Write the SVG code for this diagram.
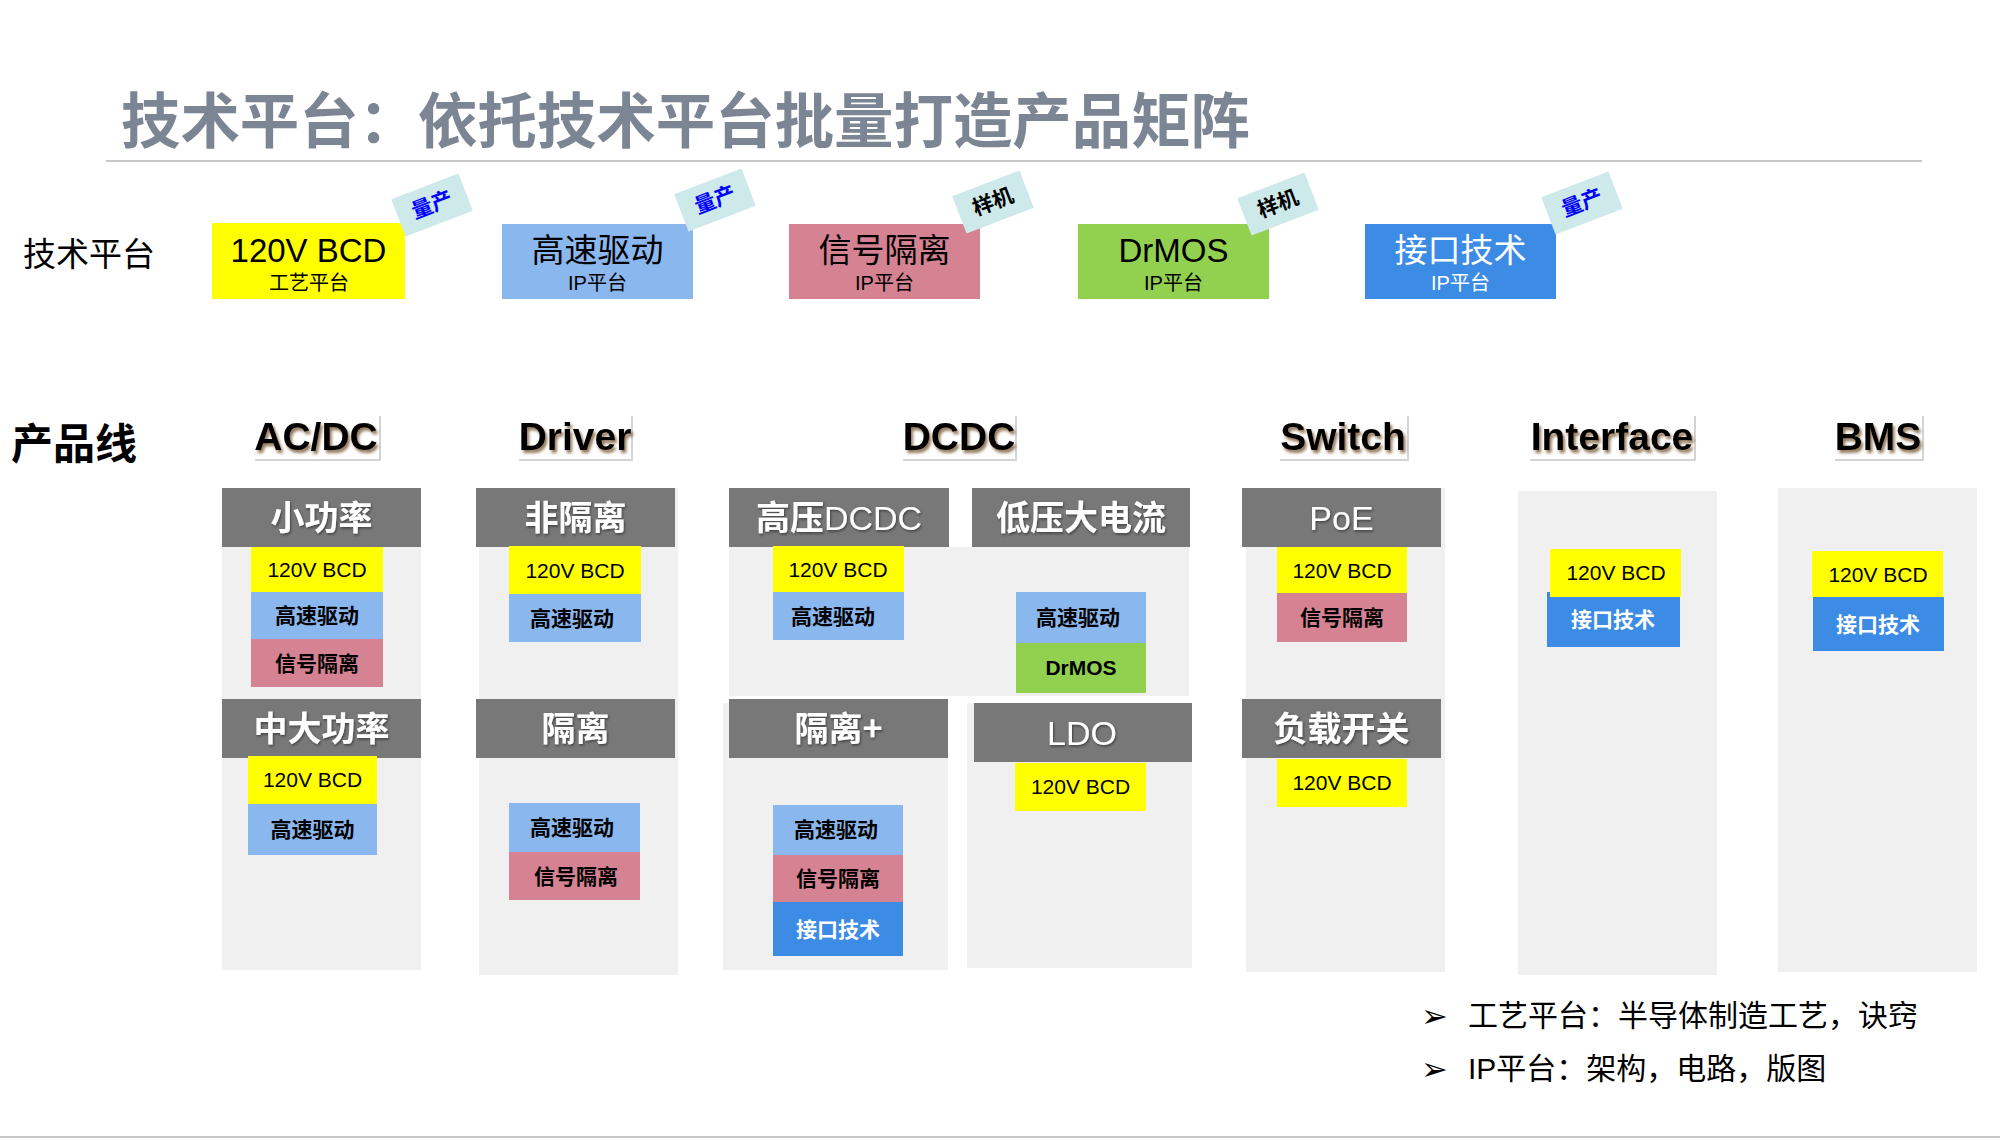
<svg xmlns="http://www.w3.org/2000/svg" width="2000" height="1140" viewBox="0 0 2000 1140">
<defs>
<filter id="hshadow" x="-10%" y="-20%" width="130%" height="150%">
<feDropShadow dx="2" dy="3" stdDeviation="1.6" flood-color="#6a4a20" flood-opacity="0.75"/>
</filter>
<filter id="wshadow" x="-10%" y="-20%" width="130%" height="150%">
<feDropShadow dx="1" dy="1.5" stdDeviation="1" flood-color="#222" flood-opacity="0.6"/>
</filter>
</defs>
<style>
.cjk{font-family:'Noto Sans CJK SC',sans-serif}
.lat{font-family:'Liberation Sans','Noto Sans CJK SC',sans-serif}
.title{font-family:'Noto Sans CJK SC',sans-serif;font-weight:bold;font-size:60px;fill:#7b8593}
.lbl{font-family:'Noto Sans CJK SC',sans-serif;font-size:33px;fill:#000}
.pmain{font-size:33px;text-anchor:middle}
.psub{font-size:20px;text-anchor:middle;font-family:'Liberation Sans','Noto Sans CJK SC',sans-serif}
.tag{fill:#cde9ea}
.tagt{font-family:'Noto Sans CJK SC',sans-serif;font-weight:bold;font-size:21px;text-anchor:middle}
.head{font-family:'Liberation Sans',sans-serif;font-weight:bold;font-size:39px;text-anchor:middle;fill:#000;filter:url(#hshadow)}
.frame{fill:none;stroke:#d4d4d4;stroke-width:2}
.bg{fill:#f0f0f0}
.hd{fill:#787878}
.hdt{font-family:'Noto Sans CJK SC',sans-serif;font-weight:bold;font-size:34px;text-anchor:middle;fill:#fff;filter:url(#wshadow)}
.hdl{font-family:'Liberation Sans',sans-serif;font-weight:normal;font-size:34px}
.Y{fill:#ffff00}.B{fill:#8ab7ee}.P{fill:#d58292}.G{fill:#92d050}.B2{fill:#3c8be5}
.ct{font-size:21px;text-anchor:middle;fill:#000}
.ctl{font-family:'Liberation Sans',sans-serif}
.ctc{font-family:'Noto Sans CJK SC',sans-serif;font-weight:bold}
.w{fill:#fff}
.note{font-family:'Liberation Sans','Noto Sans CJK SC',sans-serif;font-size:30px;fill:#000}
.arrow{font-family:'DejaVu Sans',sans-serif;font-size:32px;fill:#000}
</style>
<rect width="2000" height="1140" fill="#fff"/>

<g id="title">
<text class="title" x="121" y="143" textLength="1129" lengthAdjust="spacingAndGlyphs">技术平台：依托技术平台批量打造产品矩阵</text>
<line x1="106" y1="161" x2="1922" y2="161" stroke="#c8c8c8" stroke-width="2"/>
</g>

<g id="label-platform"><text class="lbl" x="23" y="266">技术平台</text></g>
<g id="label-product"><text class="cjk" x="11" y="459" font-size="42" font-weight="bold" fill="#000">产品线</text></g>

<g id="platform-bcd">
<rect x="212" y="223" width="193" height="76" class="Y"/>
<text class="lat pmain" x="308.5" y="262" font-size="32">120V BCD</text>
<text class="psub" x="309" y="290">工艺平台</text>
</g>
<g id="platform-drive">
<rect x="502" y="224" width="191" height="75" class="B"/>
<text class="cjk pmain" x="597.5" y="262">高速驱动</text>
<text class="psub" x="597.5" y="290">IP平台</text>
</g>
<g id="platform-iso">
<rect x="789" y="224" width="191" height="75" class="P"/>
<text class="cjk pmain" x="884.5" y="262">信号隔离</text>
<text class="psub" x="884.5" y="290">IP平台</text>
</g>
<g id="platform-drmos">
<rect x="1078" y="224" width="191" height="75" class="G"/>
<text class="lat pmain" x="1173.5" y="262">DrMOS</text>
<text class="psub" x="1173.5" y="290">IP平台</text>
</g>
<g id="platform-if">
<rect x="1365" y="224" width="191" height="75" class="B2"/>
<text class="cjk pmain" x="1460.5" y="262" fill="#fff">接口技术</text>
<text class="psub" x="1460.5" y="290" fill="#fff">IP平台</text>
</g>

<g id="tag1" transform="translate(432,205) rotate(-21)"><rect class="tag" x="-36" y="-20" width="72" height="40"/><text class="tagt" x="0" y="7" fill="#0000ff">量产</text></g>
<g id="tag2" transform="translate(715,200) rotate(-21)"><rect class="tag" x="-36" y="-20" width="72" height="40"/><text class="tagt" x="0" y="7" fill="#0000ff">量产</text></g>
<g id="tag3" transform="translate(993,202) rotate(-21)"><rect class="tag" x="-36" y="-20" width="72" height="40"/><text class="tagt" x="0" y="7" fill="#000">样机</text></g>
<g id="tag4" transform="translate(1278,204) rotate(-21)"><rect class="tag" x="-36" y="-20" width="72" height="40"/><text class="tagt" x="0" y="7" fill="#000">样机</text></g>
<g id="tag5" transform="translate(1582,203) rotate(-21)"><rect class="tag" x="-36" y="-20" width="72" height="40"/><text class="tagt" x="0" y="7" fill="#0000ff">量产</text></g>

<g id="heading-acdc"><polyline class="frame" points="255,460 380,460 380,416"/><text class="head" x="316" y="450">AC/DC</text></g>
<g id="heading-driver"><polyline class="frame" points="519,460 632,460 632,416"/><text class="head" x="575" y="450">Driver</text></g>
<g id="heading-dcdc"><polyline class="frame" points="903,460 1016,460 1016,416"/><text class="head" x="959" y="450">DCDC</text></g>
<g id="heading-switch"><polyline class="frame" points="1280,460 1408,460 1408,416"/><text class="head" x="1343" y="450">Switch</text></g>
<g id="heading-interface"><polyline class="frame" points="1530,460 1695,460 1695,416"/><text class="head" x="1612" y="450">Interface</text></g>
<g id="heading-bms"><polyline class="frame" points="1835,460 1923,460 1923,416"/><text class="head" x="1878" y="450">BMS</text></g>

<g id="col-acdc">
<rect class="bg" x="222" y="488" width="199" height="482"/>
<rect class="hd" x="222" y="488" width="199" height="59"/>
<text class="hdt" x="321.5" y="530">小功率</text>
<rect class="Y" x="251" y="547" width="132" height="45"/><text class="ct ctl" x="317" y="577">120V BCD</text>
<rect class="B" x="251" y="592" width="132" height="47"/><text class="ct ctc" x="317" y="623">高速驱动</text>
<rect class="P" x="251" y="639" width="132" height="48"/><text class="ct ctc" x="317" y="671">信号隔离</text>
<rect class="hd" x="222" y="699" width="199" height="59"/>
<text class="hdt" x="321.5" y="741">中大功率</text>
<rect class="Y" x="248" y="756" width="129" height="48"/><text class="ct ctl" x="312.5" y="787">120V BCD</text>
<rect class="B" x="248" y="804" width="129" height="51"/><text class="ct ctc" x="312.5" y="837">高速驱动</text>
</g>

<g id="col-driver">
<rect class="bg" x="479" y="488" width="199" height="487"/>
<rect class="hd" x="476" y="488" width="199" height="59"/>
<text class="hdt" x="575.5" y="530">非隔离</text>
<rect class="Y" x="509" y="546" width="132" height="48"/><text class="ct ctl" x="575" y="578">120V BCD</text>
<rect class="B" x="509" y="594" width="132" height="48"/><text class="ct ctc" x="572" y="626">高速驱动</text>
<rect class="hd" x="476" y="699" width="199" height="59"/>
<text class="hdt" x="575.5" y="741">隔离</text>
<rect class="B" x="509" y="803" width="131" height="49"/><text class="ct ctc" x="572" y="835">高速驱动</text>
<rect class="P" x="509" y="852" width="131" height="48"/><text class="ct ctc" x="576" y="884">信号隔离</text>
</g>

<g id="col-dcdc">
<rect class="bg" x="729" y="547" width="460" height="149"/>
<rect class="hd" x="729" y="488" width="220" height="59"/>
<text class="hdt" x="839" y="530">高压<tspan class="hdl">DCDC</tspan></text>
<rect class="hd" x="972" y="488" width="218" height="59"/>
<text class="hdt" x="1081" y="530">低压大电流</text>
<rect class="Y" x="773" y="546" width="131" height="46"/><text class="ct ctl" x="838" y="577">120V BCD</text>
<rect class="B" x="773" y="592" width="131" height="48"/><text class="ct ctc" x="833" y="624">高速驱动</text>
<rect class="B" x="1016" y="592" width="130" height="51"/><text class="ct ctc" x="1078" y="625">高速驱动</text>
<rect class="G" x="1016" y="643" width="130" height="50"/><text class="ct" x="1081" y="675" font-family="'Liberation Sans',sans-serif" font-weight="bold">DrMOS</text>
<rect class="bg" x="723" y="703" width="225" height="267"/>
<rect class="hd" x="729" y="699" width="219" height="59"/>
<text class="hdt" x="838.5" y="741">隔离+</text>
<rect class="B" x="773" y="805" width="130" height="50"/><text class="ct ctc" x="836" y="837">高速驱动</text>
<rect class="P" x="773" y="855" width="130" height="47"/><text class="ct ctc" x="838" y="886">信号隔离</text>
<rect class="B2" x="773" y="902" width="130" height="54"/><text class="ct ctc w" x="838" y="937">接口技术</text>
<rect class="bg" x="967" y="703" width="225" height="265"/>
<rect class="hd" x="974" y="703" width="218" height="59"/>
<text class="hdt hdl" x="1082" y="745">LDO</text>
<rect class="Y" x="1015" y="763" width="131" height="48"/><text class="ct ctl" x="1080.5" y="794">120V BCD</text>
</g>

<g id="col-switch">
<rect class="bg" x="1246" y="488" width="199" height="484"/>
<rect class="hd" x="1242" y="488" width="199" height="59"/>
<text class="hdt hdl" x="1341.5" y="530">PoE</text>
<rect class="Y" x="1277" y="547" width="130" height="46"/><text class="ct ctl" x="1342" y="578">120V BCD</text>
<rect class="P" x="1277" y="593" width="130" height="49"/><text class="ct ctc" x="1342" y="625">信号隔离</text>
<rect class="hd" x="1242" y="699" width="199" height="59"/>
<text class="hdt" x="1341.5" y="741">负载开关</text>
<rect class="Y" x="1277" y="759" width="130" height="48"/><text class="ct ctl" x="1342" y="790">120V BCD</text>
</g>

<g id="col-interface">
<rect class="bg" x="1518" y="491" width="199" height="484"/>
<rect class="B2" x="1547" y="592" width="133" height="55"/><text class="ct ctc w" x="1613" y="627">接口技术</text>
<rect class="Y" x="1550" y="549" width="131" height="48"/><text class="ct ctl" x="1616" y="580">120V BCD</text>
</g>

<g id="col-bms">
<rect class="bg" x="1778" y="488" width="199" height="484"/>
<rect class="Y" x="1812" y="551" width="131" height="46"/><text class="ct ctl" x="1878" y="582">120V BCD</text>
<rect class="B2" x="1813" y="597" width="131" height="54"/><text class="ct ctc w" x="1878" y="632">接口技术</text>
</g>

<g id="notes">
<text class="arrow" x="1421" y="1027">➢</text>
<text class="note" x="1468" y="1026">工艺平台：半导体制造工艺，诀窍</text>
<text class="arrow" x="1421" y="1080">➢</text>
<text class="note" x="1468" y="1079">IP平台：架构，电路，版图</text>
</g>

<g id="connectors"></g>

<line x1="0" y1="1137" x2="2000" y2="1137" stroke="#c8c8c8" stroke-width="2"/>
</svg>
